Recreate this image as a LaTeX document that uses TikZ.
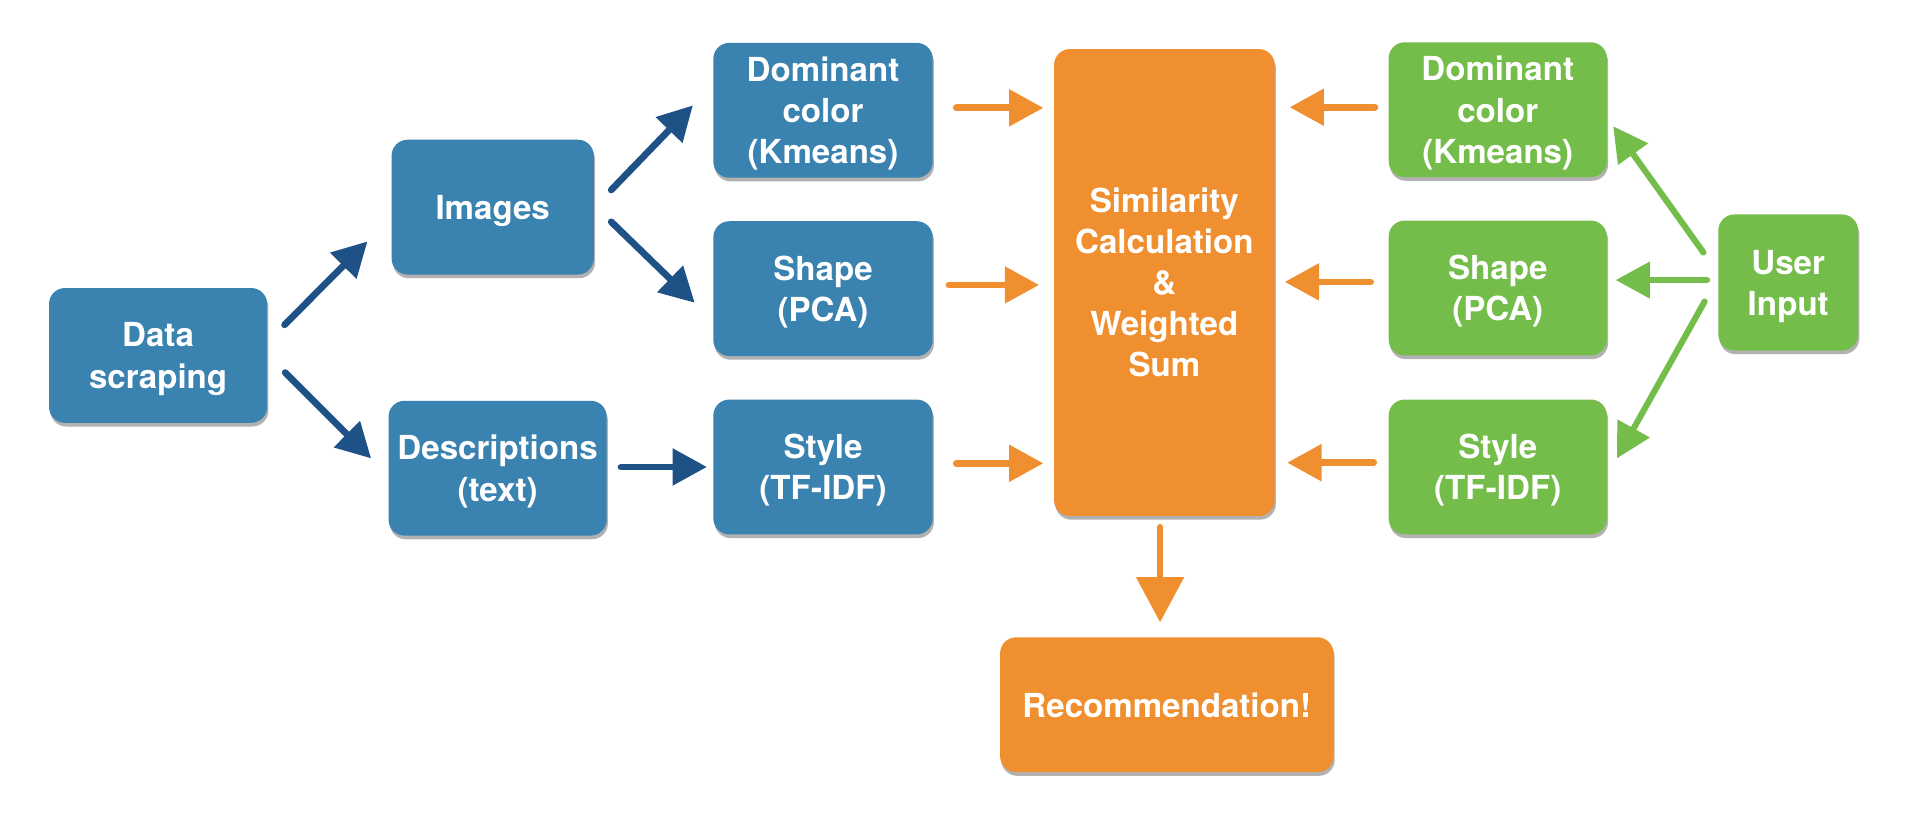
\documentclass[tikz,border=0pt]{standalone}
\usepackage{fontspec}
\setmainfont{TeX Gyre Heros}
\usetikzlibrary{arrows.meta,shadows,calc}
\definecolor{bluebox}{HTML}{3A82B0}
\definecolor{bluearrow}{HTML}{1E5185}
\definecolor{orangebox}{HTML}{F08F2F}
\definecolor{greenbox}{HTML}{74BD4A}
\tikzset{
  box/.style={rectangle, rounded corners=13pt, text=white, align=center,
    font=\bfseries\fontsize{27}{33.5}\selectfont, inner sep=0pt,
    text depth=-2pt,
    drop shadow={shadow xshift=1pt, shadow yshift=-3pt, opacity=0.3, fill=black}},
  bbox/.style={box, fill=bluebox},
  obox/.style={box, fill=orangebox},
  gbox/.style={box, fill=greenbox},
  conn/.style={line width=5.5pt, line cap=round, -{Triangle[length=28pt,width=29pt]}},
  barrow/.style={conn, draw=bluearrow, fill=bluearrow},
  oarrow/.style={conn, draw=orangebox, fill=orangebox},
  garrow/.style={conn, line width=5pt, draw=greenbox, fill=greenbox},
}
\begin{document}
\begin{tikzpicture}[x=1pt,y=-1pt]
\useasboundingbox (0,0) rectangle (1560,674);
% nodes
\node[bbox, minimum width=178pt, minimum height=110pt] (ds) at (129,290) {Data\\scraping};
\node[bbox, minimum width=165pt, minimum height=110pt] (img) at (402,169) {Images};
\node[bbox, minimum width=178pt, minimum height=110pt] (desc) at (406,382) {Descriptions\\(text)};
\node[bbox, minimum width=179pt, minimum height=110pt] (bdom) at (671.5,90) {Dominant\\color\\(Kmeans)};
\node[bbox, minimum width=179pt, minimum height=110pt] (bshape) at (671.5,235.5) {Shape\\(PCA)};
\node[bbox, minimum width=179pt, minimum height=110pt] (bstyle) at (671.5,381) {Style\\(TF-IDF)};
\node[obox, minimum width=180pt, minimum height=381pt] (sim) at (950,230.5) {Similarity\\Calculation\\\&\\Weighted\\Sum};
\node[gbox, minimum width=178pt, minimum height=110pt] (gdom) at (1222,89.5) {Dominant\\color\\(Kmeans)};
\node[gbox, minimum width=178pt, minimum height=110pt] (gshape) at (1222,235) {Shape\\(PCA)};
\node[gbox, minimum width=178pt, minimum height=110pt] (gstyle) at (1222,381) {Style\\(TF-IDF)};
\node[gbox, minimum width=114pt, minimum height=111pt] (ui) at (1459,230.5) {User\\Input};
\node[obox, minimum width=272pt, minimum height=110pt] (rec) at (952,575) {Recommendation!};
% blue arrows
\draw[barrow] ([shift={(14,-25)}]ds.east) -- ([shift={(-19.5,28)}]img.west);
\draw[barrow] ([shift={(14.5,14)}]ds.east) -- ([shift={(-14,-8)}]desc.west);
\draw[barrow] ([shift={(14,-14)}]img.east) -- ([shift={(-16.5,-4)}]bdom.west);
\draw[barrow] ([shift={(14,12)}]img.east) -- ([shift={(-15,11.5)}]bshape.west);
\draw[barrow] ([shift={(11.5,-1)}]desc.east) -- ([shift={(-5,0)}]bstyle.west);
% blue side to similarity
\coordinate (t1) at ([shift={(19,-2)}]bdom.east);
\coordinate (t2) at ([shift={(13,-3)}]bshape.east);
\coordinate (t3) at ([shift={(19,-3)}]bstyle.east);
\draw[oarrow, shorten >=8.5pt] (t1) -- (t1 -| sim.west);
\draw[oarrow, shorten >=12pt] (t2) -- (t2 -| sim.west);
\draw[oarrow, shorten >=8.5pt] (t3) -- (t3 -| sim.west);
% green side to similarity
\coordinate (u1) at ([shift={(-11,-2)}]gdom.west);
\coordinate (u2) at ([shift={(-14.5,-5)}]gshape.west);
\coordinate (u3) at ([shift={(-12,-3.5)}]gstyle.west);
\draw[oarrow, shorten >=12pt] (u1) -- (u1 -| sim.east);
\draw[oarrow, shorten >=8pt] (u2) -- (u2 -| sim.east);
\draw[oarrow, shorten >=10pt] (u3) -- (u3 -| sim.east);
% similarity to recommendation
\coordinate (d1) at ([shift={(-3.5,9)}]sim.south);
\draw[oarrow, shorten >=12pt, -{Triangle[length=37pt,width=38pt]}] (d1) -- (d1 |- rec.north);
% user input arrows
\draw[garrow] ([shift={(-12,-24.5)}]ui.west) -- ([shift={(5,13.5)}]gdom.east);
\draw[garrow] ([shift={(-9,-2)}]ui.west) -- ([shift={(7,-6.5)}]gshape.east);
\draw[garrow] ([shift={(-11,15.5)}]ui.west) -- ([shift={(8,-7)}]gstyle.east);
\end{tikzpicture}
\end{document}
